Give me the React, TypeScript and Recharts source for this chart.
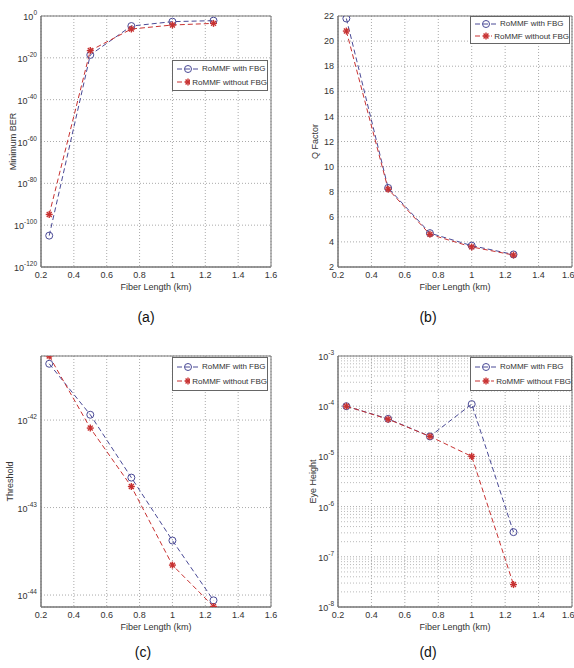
import {
  CartesianGrid,
  Label,
  Line,
  LineChart,
  ReferenceArea,
  ReferenceLine,
  XAxis,
  YAxis,
} from "recharts";

// Fiber length samples (km) shared by the four panels
const fiberLength = [0.25, 0.5, 0.75, 1, 1.25];
const xTicks = [0.2, 0.4, 0.6, 0.8, 1, 1.2, 1.4, 1.6];

// (a) Minimum BER
const berWithFbg = [1e-105, 2.5e-19, 1.6e-5, 2e-3, 6e-3];
const berWithoutFbg = [1.3e-95, 3e-17, 6e-7, 5e-5, 3e-4];
const berTicks = [1e-120, 1e-100, 1e-80, 1e-60, 1e-40, 1e-20, 1];

// (b) Q Factor
const qWithFbg = [21.8, 8.3, 4.7, 3.7, 3.0];
const qWithoutFbg = [20.8, 8.2, 4.6, 3.6, 2.95];
const qTicks = [2, 4, 6, 8, 10, 12, 14, 16, 18, 20, 22];

// (c) Threshold
const thrWithFbg = [4.4e-42, 1.15e-42, 2.2e-43, 4.2e-44, 8.7e-45];
const thrWithoutFbg = [5.4e-42, 8.1e-43, 1.74e-43, 2.2e-44, 7.4e-45];
const thrTicks = [1e-44, 1e-43, 1e-42];

// (d) Eye Height
const eyeWithFbg = [1e-4, 5.6e-5, 2.5e-5, 1.1e-4, 3.1e-7];
const eyeWithoutFbg = [1e-4, 5.5e-5, 2.5e-5, 1e-5, 2.8e-8];
const eyeTicks = [1e-8, 1e-7, 1e-6, 1e-5, 1e-4, 1e-3];

const seriesNames = ["RoMMF with FBG", "RoMMF without FBG"];

const BLUE = "#4a4a96";
const RED = "#c83232";
const FONT = "'Liberation Sans', Arial, sans-serif";

// minor log grid for the eye height panel
const eyeMinor: number[] = [];
for (let e = -8; e < -3; e++) {
  for (let k = 2; k <= 9; k++) eyeMinor.push(k * Math.pow(10, e));
}

const PowTick = (props: any) => {
  const { x, y, payload } = props;
  const e = Math.round(Math.log10(payload.value));
  return (
    <text x={x} y={y} dy={4} textAnchor="end" fontSize={9} fill="#333" fontFamily={FONT}>
      10
      <tspan dy={-5} fontSize={6.5}>
        {e}
      </tspan>
    </text>
  );
};

const CircleDot = (p: any) => (
  <circle key={p.key} cx={p.cx} cy={p.cy} r={3.5} fill="none" stroke={BLUE} strokeWidth={1} />
);

const StarDot = (p: any) => {
  const { cx, cy } = p;
  const r = 3.5;
  const d = r * 0.7;
  return (
    <g key={p.key} stroke={RED} strokeWidth={1.4}>
      <line x1={cx - r} y1={cy} x2={cx + r} y2={cy} />
      <line x1={cx} y1={cy - r} x2={cx} y2={cy + r} />
      <line x1={cx - d} y1={cy - d} x2={cx + d} y2={cy + d} />
      <line x1={cx - d} y1={cy + d} x2={cx + d} y2={cy - d} />
    </g>
  );
};

const LegendBox = ({ left, top, width, height }: any) => (
  <div
    style={{
      position: "absolute",
      left,
      top,
      width,
      height,
      boxSizing: "border-box",
      border: "1px solid #666",
      background: "#fff",
      fontFamily: FONT,
      fontSize: 8,
      color: "#333",
      display: "flex",
      flexDirection: "column",
      justifyContent: "space-evenly",
      paddingLeft: 3,
    }}
  >
    {seriesNames.map((name, i) => (
      <div key={name} style={{ display: "flex", alignItems: "center", height: 11 }}>
        <svg width={24} height={10}>
          <line
            x1={1}
            y1={5}
            x2={23}
            y2={5}
            stroke={i === 0 ? BLUE : RED}
            strokeDasharray="5 3"
          />
          {i === 0 ? <CircleDot cx={12} cy={5} /> : <StarDot cx={12} cy={5} />}
        </svg>
        <span style={{ marginLeft: 2, whiteSpace: "nowrap" }}>{name}</span>
      </div>
    ))}
  </div>
);

const Panel = ({
  left,
  top,
  withFbg,
  withoutFbg,
  log,
  domain,
  ticks,
  yLabel,
  yLabelX,
  yAxisWidth,
  plotWidth,
  legend,
  minor,
  caption,
}: any) => {
  const data = fiberLength.map((x, i) => ({ x, with: withFbg[i], without: withoutFbg[i] }));
  return (
    <div style={{ position: "absolute", left, top, width: 287, height: 330 }}>
      <LineChart
        width={287}
        height={300}
        data={data}
        margin={{ top: 16, right: 287 - yAxisWidth - plotWidth, bottom: 0, left: 0 }}
      >
        <CartesianGrid stroke="#aaa" strokeDasharray="1 2" />
        {minor &&
          minor.map((v: number) => (
            <ReferenceLine key={v} y={v} stroke="#bbb" strokeDasharray="1 2" />
          ))}
        <XAxis
          dataKey="x"
          type="number"
          domain={[0.2, 1.6]}
          ticks={xTicks}
          tickSize={0}
          tickMargin={5}
          height={33}
          stroke="#777"
          tick={{ fontSize: 9, fill: "#333", fontFamily: FONT }}
          allowDataOverflow
        >
          <Label
            value="Fiber Length (km)"
            position="insideBottom"
            offset={10}
            style={{ fontSize: 9, fill: "#333", fontFamily: FONT }}
          />
        </XAxis>
        <YAxis
          type="number"
          scale={log ? "log" : "linear"}
          domain={domain}
          ticks={ticks}
          width={yAxisWidth}
          tickSize={0}
          tickMargin={4}
          stroke="#777"
          allowDataOverflow
          tick={log ? <PowTick /> : { fontSize: 9, fill: "#333", fontFamily: FONT }}
        >
          <Label
            content={({ viewBox }: any) => {
              const cy = viewBox.y + viewBox.height / 2;
              return (
                <text
                  x={yLabelX}
                  y={cy}
                  transform={`rotate(-90 ${yLabelX} ${cy})`}
                  textAnchor="middle"
                  dominantBaseline="central"
                  fontSize={9}
                  fill="#333"
                  fontFamily={FONT}
                >
                  {yLabel}
                </text>
              );
            }}
          />
        </YAxis>
        <ReferenceArea
          x1={0.2}
          x2={1.6}
          y1={domain[0]}
          y2={domain[1]}
          fill="none"
          stroke="#777"
          strokeOpacity={1}
          fillOpacity={0}
          ifOverflow="visible"
        />
        <Line
          dataKey="with"
          name={seriesNames[0]}
          stroke={BLUE}
          strokeWidth={1}
          strokeDasharray="5 3"
          dot={CircleDot}
          isAnimationActive={false}
        />
        <Line
          dataKey="without"
          name={seriesNames[1]}
          stroke={RED}
          strokeWidth={1}
          strokeDasharray="5 3"
          dot={StarDot}
          isAnimationActive={false}
        />
      </LineChart>
      <LegendBox {...legend} />
      <div
        style={{
          position: "absolute",
          left: caption.x - 20,
          width: 40,
          top: caption.y - 9,
          textAlign: "center",
          fontFamily: FONT,
          fontSize: 14,
          color: "#111",
        }}
      >
        {caption.text}
      </div>
    </div>
  );
};

export default function App() {
  return (
    <div
      style={{
        position: "absolute",
        left: 0,
        top: 0,
        width: 574,
        height: 668,
        background: "#fff",
        overflow: "hidden",
      }}
    >
      <Panel
        left={0}
        top={0}
        withFbg={berWithFbg}
        withoutFbg={berWithoutFbg}
        log
        domain={[1e-120, 1]}
        ticks={berTicks}
        yLabel="Minimum BER"
        yLabelX={13}
        yAxisWidth={41}
        plotWidth={230}
        legend={{ left: 172, top: 60, width: 96, height: 31 }}
        caption={{ x: 146, y: 318, text: "(a)" }}
      />
      <Panel
        left={287}
        top={0}
        withFbg={qWithFbg}
        withoutFbg={qWithoutFbg}
        domain={[2, 22]}
        ticks={qTicks}
        yLabel="Q Factor"
        yLabelX={28}
        yAxisWidth={51}
        plotWidth={234}
        legend={{ left: 183, top: 16, width: 100, height: 28 }}
        caption={{ x: 141, y: 318, text: "(b)" }}
      />
      <Panel
        left={0}
        top={340}
        withFbg={thrWithFbg}
        withoutFbg={thrWithoutFbg}
        log
        domain={[7.3e-45, 5.4e-42]}
        ticks={thrTicks}
        yLabel="Threshold"
        yLabelX={10}
        yAxisWidth={41}
        plotWidth={230}
        legend={{ left: 172, top: 17, width: 96, height: 34 }}
        caption={{ x: 143, y: 313, text: "(c)" }}
      />
      <Panel
        left={287}
        top={340}
        withFbg={eyeWithFbg}
        withoutFbg={eyeWithoutFbg}
        log
        domain={[1e-8, 1e-3]}
        ticks={eyeTicks}
        yLabel="Eye Height"
        yLabelX={26}
        yAxisWidth={51}
        plotWidth={234}
        legend={{ left: 183, top: 17, width: 102, height: 34 }}
        minor={eyeMinor}
        caption={{ x: 141, y: 313, text: "(d)" }}
      />
    </div>
  );
}
